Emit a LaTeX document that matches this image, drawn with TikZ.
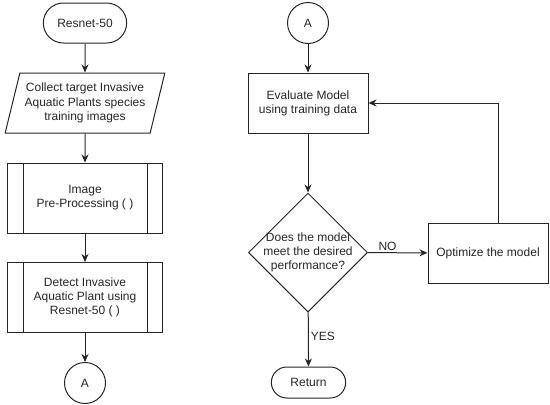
\documentclass[tikz,border=0pt]{standalone}
\usepackage{fontspec}
\setmainfont{Liberation Sans}
\usetikzlibrary{shapes.geometric,shapes.misc,arrows.meta}

\begin{document}
\begin{tikzpicture}[
      x = 1pt, y = -1pt,
      font = \fontsize{12}{14.2}\selectfont,
      line width = 1pt,
      every node/.style={text = black!85, draw = black!85},
      term/.style={
        rounded rectangle,
        minimum width = 90pt,
        minimum height = 40pt,
      },
      io/.style={
        trapezium,
        trapezium left angle = 71,
        trapezium right angle = 109,
        trapezium stretches = true,
        minimum width = 160pt,
        minimum height = 60pt,
        inner xsep = 0pt,
        inner ysep = 0pt,
        align = center,
      },
      proc/.style={
        rectangle,
        minimum width = 120pt,
        minimum height = 60pt,
        align = center,
      },
      sub/.style={
        rectangle,
        minimum width = 155pt,
        minimum height = 70pt,
        align = center,
      },
      conn/.style={
        circle,
        minimum size = 41pt,
        inner sep = 0pt,
      },
      decision/.style={
        diamond,
        aspect = 1,
        minimum width = 119pt,
        minimum height = 119pt,
        inner sep = 0pt,
      },
      arr/.style={
        draw = black!85,
        -{Stealth[length = 8pt, width = 7pt, inset = 2.5pt]},
      },
      tag/.style={draw = none, inner sep = 2pt},
    ]
    \useasboundingbox (0,0) rectangle (550,405);

    % left column
    \node[term] (start) at (85,23) {Resnet-50};
    \node[io] (collect) at (85,103) {Collect target Invasive\\
      Aquatic Plants species\\training images};
    \node[sub] (pre) at (85,198) {Image\\Pre-Processing ( )};
    \node[sub] (detect) at (85,297.5) {Detect Invasive\\
      Aquatic Plant using\\Resnet-50 ( )};
    \node[conn] (conA) at (85,383) {A};

    % right column
    \node[conn] (conB) at (308,23) {A};
    \node[proc] (eval) at (308,103) {Evaluate Model\\using training data};
    \node[decision, label={[tag, align = center]center:Does the model\\
      meet the desired\\performance?}] (decide) at (308,252.5) {};
    \node[proc] (optim) at (488,253) {Optimize the model};
    \node[term, minimum width = 81pt, minimum height = 31pt]
      (ret) at (308.5,382.5) {Return};

    % side bars of the sub-process boxes
    \foreach \n in {pre, detect} {
      \draw[black!85] ([xshift = 16pt]\n.north west) -- ([xshift = 16pt]\n.south west);
      \draw[black!85] ([xshift = -16pt]\n.north east) -- ([xshift = -16pt]\n.south east);
    }

    \draw[arr] (start) -- (collect);
    \draw[arr] (collect) -- (pre);
    \draw[arr] (pre) -- (detect);
    \draw[arr] (detect) -- (conA);
    \draw[arr] (conB) -- (eval);
    \draw[arr] (eval) -- (decide);
    \draw[arr] (decide) -- node[tag, above, pos = 0.33] {NO} (optim);
    \draw[arr] (decide) -- node[tag, right, pos = 0.45] {YES} (ret);
    \draw[arr] ([xshift = 10pt]optim.north) |- (eval.east);
  \end{tikzpicture}
\end{document}
